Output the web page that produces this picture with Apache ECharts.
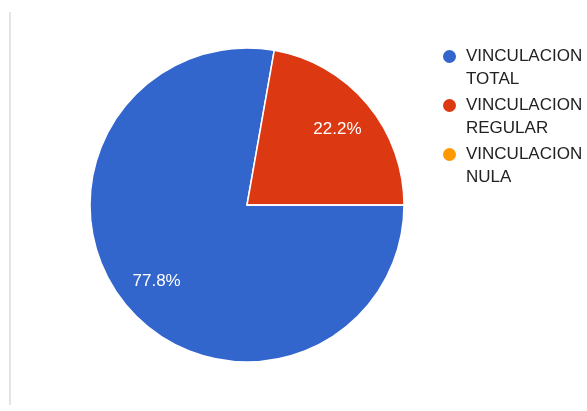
<!DOCTYPE html>
<html>
<head>
<meta charset="utf-8">
<script src="https://cdn.jsdelivr.net/npm/echarts@6/dist/echarts.min.js"></script>
<style>html,body{margin:0;padding:0;background:#fff;}#c{width:587px;height:411px;}</style>
</head>
<body>
<div id="c"></div>
<script>
const categories = ['VINCULACION TOTAL', 'VINCULACION REGULAR', 'VINCULACION NULA'];
const values = [7, 2, 0];
const colors = ['#3366cc', '#dc3912', '#ff9900'];

const chart = echarts.init(document.getElementById('c'));
const data = categories.map((n, i) => ({ name: n, value: values[i], itemStyle: { color: colors[i] } }));
chart.setOption({
  animation: false,
  graphic: [{ type: 'rect', left: 9, top: 12, shape: { width: 2, height: 393 }, style: { fill: '#e4e4e4' }, silent: true }],
  legend: {
    orient: 'vertical', left: 441, top: 22, padding: 0, itemWidth: 15, itemHeight: 15, icon: 'circle', itemGap: -20,
    data: categories,
    formatter: n => ' \n' + n.replace(' ', '\n'),
    textStyle: { fontFamily: 'Liberation Sans, Arial', fontSize: 17, color: '#222', lineHeight: 23, padding: [0, 0, 0, 4] }
  },
  series: [
    {
      type: 'pie', center: [247, 205], radius: [0, 157], startAngle: 0, clockwise: true,
      label: { show: false }, labelLine: { show: false },
      itemStyle: { borderColor: '#fff', borderWidth: 1.5 },
      emphasis: { disabled: true },
      data: data
    },
    {
      type: 'pie', center: [247, 205], radius: [100, 130], startAngle: 0, clockwise: true, silent: true,
      percentPrecision: 1,
      itemStyle: { color: 'rgba(0,0,0,0)', borderWidth: 0 },
      label: { show: true, position: 'inside', color: '#fff', fontFamily: 'Liberation Sans, Arial', fontSize: 17,
        formatter: p => p.value > 0 ? p.percent.toFixed(1) + '%' : '' },
      labelLine: { show: false },
      emphasis: { disabled: true },
      data: categories.map((n, i) => ({ name: n, value: values[i] }))
    }
  ]
});
</script>
</body>
</html>
